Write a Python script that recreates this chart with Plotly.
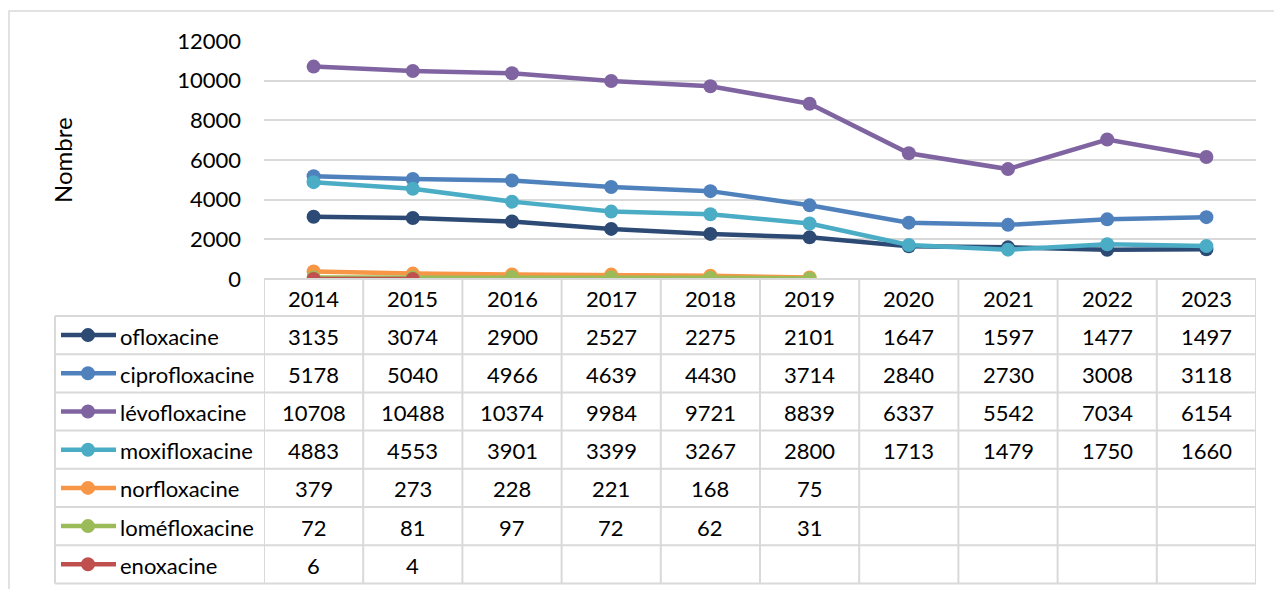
import plotly.graph_objects as go

years = ["2014", "2015", "2016", "2017", "2018", "2019", "2020", "2021", "2022", "2023"]
names = ["ofloxacine", "ciprofloxacine", "lévofloxacine", "moxifloxacine",
         "norfloxacine", "loméfloxacine", "enoxacine"]
ofloxacine = [3135, 3074, 2900, 2527, 2275, 2101, 1647, 1597, 1477, 1497]
ciprofloxacine = [5178, 5040, 4966, 4639, 4430, 3714, 2840, 2730, 3008, 3118]
levofloxacine = [10708, 10488, 10374, 9984, 9721, 8839, 6337, 5542, 7034, 6154]
moxifloxacine = [4883, 4553, 3901, 3399, 3267, 2800, 1713, 1479, 1750, 1660]
norfloxacine = [379, 273, 228, 221, 168, 75, None, None, None, None]
lomefloxacine = [72, 81, 97, 72, 62, 31, None, None, None, None]
enoxacine = [6, 4, None, None, None, None, None, None, None, None]
series = [ofloxacine, ciprofloxacine, levofloxacine, moxifloxacine,
          norfloxacine, lomefloxacine, enoxacine]
colors = ["#2C4A74", "#4F81BD", "#8064A2", "#4BACC6", "#F79646", "#9BBB59", "#C0504D"]
y_ticks = [0, 2000, 4000, 6000, 8000, 10000, 12000]
y_tick_labels = ["0", "2000", "4000", "6000", "8000", "10000", "12000"]

W, H = 1274, 589
ML, MR, MT, MB = 55, 18, 41, 5
PW = W - ML - MR
PH = H - MT - MB
PLOT_L, PLOT_B = 264, 279


def px(p):
    return (p - ML) / PW


def py(p):
    return (H - MB - p) / PH


FONT = "Lato, 'Open Sans', sans-serif"
FS = 22
GRID = "#D9D9D9"
xi = list(range(len(years)))

fig = go.Figure()
for name, vals, col in zip(names, series, colors):
    fig.add_trace(go.Scatter(
        x=xi, y=vals, mode="lines+markers", name=name,
        line=dict(color=col, width=4.5),
        marker=dict(color=col, size=14),
        connectgaps=False, showlegend=False,
    ))

shapes = []
annotations = []

shapes.append(dict(type="rect", xref="paper", yref="paper",
                   x0=px(9), x1=px(1290), y0=py(600), y1=py(11),
                   line=dict(color=GRID, width=1.5)))

header_top = PLOT_B
header_bot = 316
row_h = 38.2
n_rows = len(names)
table_bot = header_bot + row_h * n_rows

shapes.append(dict(type="line", xref="x", yref="paper", x0=-0.5, x1=len(years) - 0.5,
                   y0=py(header_top), y1=py(header_top), line=dict(color=GRID, width=2)))
for k in range(n_rows + 1):
    yy = header_bot + row_h * k
    shapes.append(dict(type="line", xref="paper", yref="paper", x0=px(55), x1=1,
                       y0=py(yy), y1=py(yy), line=dict(color=GRID, width=2)))
for i in range(len(years) + 1):
    shapes.append(dict(type="line", xref="x", yref="paper", x0=i - 0.5, x1=i - 0.5,
                       y0=py(header_top), y1=py(table_bot), line=dict(color=GRID, width=2)))
shapes.append(dict(type="line", xref="paper", yref="paper", x0=px(55), x1=px(55),
                   y0=py(header_bot), y1=py(table_bot), line=dict(color=GRID, width=2)))

for i, yr in enumerate(years):
    annotations.append(dict(x=i, y=py((header_top + header_bot) / 2 + 1), xref="x", yref="paper",
                            text=yr, showarrow=False, xanchor="center", yanchor="middle",
                            font=dict(family=FONT, size=FS, color="#000000")))

for r, (name, vals, col) in enumerate(zip(names, series, colors)):
    cy = header_bot + row_h * (r + 0.5)
    shapes.append(dict(type="line", xref="paper", yref="paper", x0=px(61), x1=px(116),
                       y0=py(cy), y1=py(cy), line=dict(color=col, width=4.5)))
    shapes.append(dict(type="circle", xref="paper", yref="paper",
                       x0=px(88 - 7), x1=px(88 + 7), y0=py(cy + 7), y1=py(cy - 7),
                       fillcolor=col, line=dict(color=col, width=0)))
    annotations.append(dict(x=px(118), y=py(cy + 1), xref="paper", yref="paper",
                            text=name, showarrow=False, xanchor="left", yanchor="middle",
                            font=dict(family=FONT, size=FS, color="#000000")))
    for i, v in enumerate(vals):
        if v is None:
            continue
        annotations.append(dict(x=i, y=py(cy + 1), xref="x", yref="paper",
                                text=str(v), showarrow=False, xanchor="center", yanchor="middle",
                                font=dict(family=FONT, size=FS, color="#000000")))

annotations.append(dict(x=px(62), y=py(160), xref="paper", yref="paper", text="Nombre",
                        textangle=-90, showarrow=False, xanchor="center", yanchor="middle",
                        font=dict(family=FONT, size=24, color="#000000")))

fig.update_layout(
    width=W, height=H,
    autosize=False,
    margin=dict(l=ML, r=MR, t=MT, b=MB, pad=0, autoexpand=False),
    paper_bgcolor="white", plot_bgcolor="white",
    shapes=shapes, annotations=annotations, showlegend=False,
    xaxis=dict(domain=[px(PLOT_L), 1], range=[-0.5, len(years) - 0.5],
               showgrid=False, zeroline=False, showticklabels=False, showline=False,
               fixedrange=True, automargin=False),
    yaxis=dict(domain=[py(PLOT_B), 1], range=[0, 12000], tickvals=y_ticks,
               ticktext=y_tick_labels,
               showgrid=True, gridcolor=GRID, gridwidth=1.5, zeroline=False,
               showline=False, ticks="", ticklabelstandoff=22, automargin=False,
               tickfont=dict(family=FONT, size=FS, color="#000000"), fixedrange=True),
    font=dict(family=FONT, size=FS),
)

fig.write_html("out.html", config={"displayModeBar": False},
               post_script="document.body.style.margin='0';document.body.style.overflow='hidden';")
